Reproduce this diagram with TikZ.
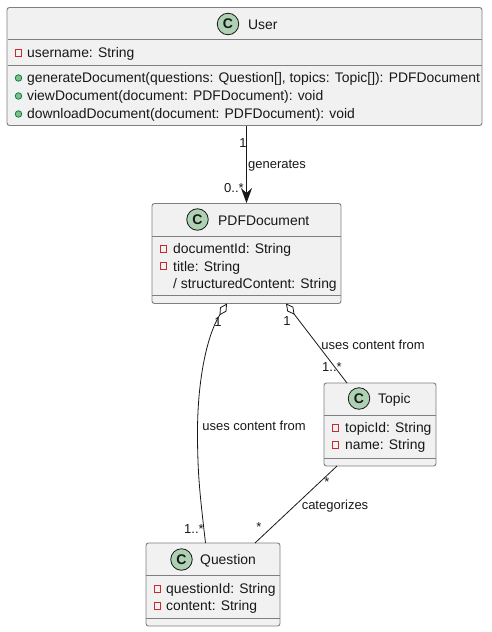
\documentclass[tikz,border=0pt]{standalone}
\usepackage{fontspec}
\setmainfont{Liberation Sans}
\usetikzlibrary{arrows.meta,calc,positioning}
\definecolor{umlink}{HTML}{181818}
\definecolor{umlline}{HTML}{7F7F7F}
\definecolor{umlfill}{HTML}{F1F1F1}
\definecolor{umlspot}{HTML}{ADD1B2}
\definecolor{umlred}{HTML}{C82930}
\definecolor{umlgreen}{HTML}{84BE84}
\definecolor{umlgreendark}{HTML}{038048}
\tikzset{
  classbox/.style={draw=umlline, fill=umlfill, rounded corners=2.5pt,
    line width=.9pt, inner sep=0pt},
  classrule/.style={draw=umlline, line width=.9pt},
  spotmark/.style={circle, draw=umlink, fill=umlspot, line width=.8pt,
    minimum size=21.5pt, inner sep=0pt, font=\fontsize{14}{14}\selectfont\bfseries, text=umlink},
  classtitle/.style={anchor=west, inner sep=0pt, yshift=-1pt, font=\fontsize{13.9}{16}\selectfont, text=umlink},
  membertext/.style={anchor=west, inner sep=0pt, yshift=-1.2pt, font=\fontsize{13.9}{16}\selectfont, text=umlink},
  privatemark/.style={rectangle, draw=umlred, line width=.8pt, minimum size=6.5pt, inner sep=0pt},
  publicmark/.style={circle, draw=umlgreendark, fill=umlgreen, line width=.8pt, minimum size=6.5pt, inner sep=0pt},
  linklabel/.style={inner sep=0pt, yshift=-1pt, font=\fontsize{13}{15}\selectfont, text=umlink},
  linkline/.style={draw=umlink, line width=.8pt},
  sharedend/.style={{Diamond[open, length=14pt, width=7.5pt]}-}
}
\begin{document}
\begin{tikzpicture}[x=1pt,y=-1pt]
  \useasboundingbox (0,0) rectangle (492,632);
  % The four classes, each with its compartments.
  \node[classbox, minimum width=475pt, minimum height=118pt] (user) at (244.5,66.5) {};
  \draw[classrule] (7.5,39.5) -- (482,39.5);
  \draw[classrule] (7.5,65.5) -- (482,65.5);
  \node[spotmark] (userspot) at (228,24) {C};
  \node[classtitle] (usertitle) at (248,24) {User};
  \node[privatemark] (usericona) at (18.5,53) {};
  \node[membertext] (usertexta) at (27,53) {username: String};
  \node[publicmark] (usericonb) at (18.5,78) {};
  \node[membertext] (usertextb) at (27,78) {generateDocument(questions: Question[], topics: Topic[]): PDFDocument};
  \node[publicmark] (usericonc) at (18.5,96) {};
  \node[membertext] (usertextc) at (27,96) {viewDocument(document: PDFDocument): void};
  \node[publicmark] (usericond) at (18.5,114) {};
  \node[membertext] (usertextd) at (27,114) {downloadDocument(document: PDFDocument): void};

  \node[classbox, minimum width=189pt, minimum height=100pt] (pdf) at (246.5,253.5) {};
  \draw[classrule] (152,236) -- (341,236);
  \draw[classrule] (152,295) -- (341,295);
  \node[spotmark] (pdfspot) at (197.5,219.5) {C};
  \node[classtitle] (pdftitle) at (218,220) {PDFDocument};
  \node[privatemark] (pdficona) at (163.5,249) {};
  \node[membertext] (pdftexta) at (173,249) {documentId: String};
  \node[privatemark] (pdficonb) at (163.5,266) {};
  \node[membertext] (pdftextb) at (173,267) {title: String};
  \node[membertext] (pdftextc) at (173,284) {/ structuredContent: String};

  \node[classbox, minimum width=112pt, minimum height=83pt] (topic) at (380,424.5) {};
  \draw[classrule] (324,415) -- (436,415);
  \draw[classrule] (324,458) -- (436,458);
  \node[spotmark] (topicspot) at (359,398.5) {C};
  \node[classtitle] (topictitle) at (378,399) {Topic};
  \node[privatemark] (topicicona) at (335.5,428) {};
  \node[membertext] (topictexta) at (345,428) {topicId: String};
  \node[privatemark] (topiciconb) at (335.5,445) {};
  \node[membertext] (topictextb) at (345,445) {name: String};

  \node[classbox, minimum width=134pt, minimum height=83pt] (question) at (213,584.5) {};
  \draw[classrule] (146,575) -- (280,575);
  \draw[classrule] (146,618) -- (280,618);
  \node[spotmark] (questionspot) at (181.5,559.5) {C};
  \node[classtitle] (questiontitle) at (200,560) {Question};
  \node[privatemark] (questionicona) at (157.5,589) {};
  \node[membertext] (questiontexta) at (166,589) {questionId: String};
  \node[privatemark] (questioniconb) at (157.5,606) {};
  \node[membertext] (questiontextb) at (166,606) {content: String};

  % Links between the classes.
  \draw[linkline, -{Stealth[length=15pt, width=11pt, inset=5pt]}] (pdf.north |- user.south) -- (pdf.north);
  \node[linklabel] (genfrom) at (243,142) {1};
  \node[linklabel] (genlabel) at (277,164.5) {generates};
  \node[linklabel] (gento) at (234,187) {0..*};

  \coordinate (pdfleft) at (227,303.5);
  \coordinate (qbend) at (197.5,432);
  \coordinate (questiontop) at (205.5,543);
  \draw[linkline, sharedend] (pdfleft) .. controls (207,335) and (197.5,380) .. (qbend)
    .. controls (197.5,475) and (200,495) .. (questiontop);
  \node[linklabel] (qfrom) at (218,321) {1};
  \node[linklabel] (qlabel) at (254,425) {uses content from};
  \node[linklabel] (qto) at (194,528) {1..*};

  \coordinate (pdfright) at (286,303.5);
  \coordinate (topictop) at (347,383);
  \draw[linkline, sharedend] (pdfright) -- (topictop);
  \node[linklabel] (tfrom) at (287,320) {1};
  \node[linklabel] (tlabel) at (373,344) {uses content from};
  \node[linklabel] (tto) at (332,366) {1..*};

  \coordinate (topicbottom) at (337,466);
  \coordinate (questionright) at (255,543);
  \draw[linkline] (topicbottom) -- (questionright);
  \node[linklabel] (cfrom) at (327,481) {*};
  \node[linklabel] (clabel) at (335,505) {categorizes};
  \node[linklabel] (cto) at (259,526) {*};
\end{tikzpicture}
\end{document}
